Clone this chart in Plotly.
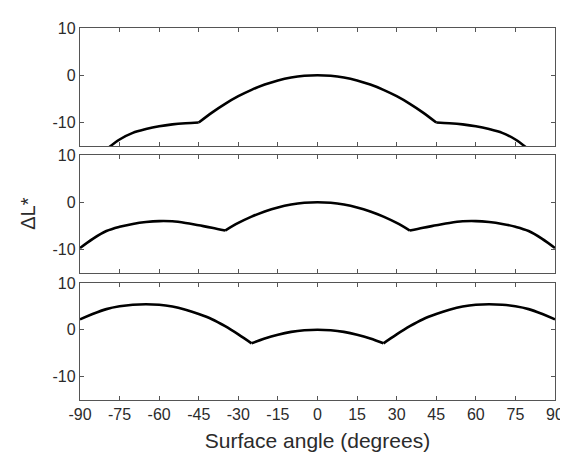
import plotly.graph_objects as go
from plotly.subplots import make_subplots

# Surface angle (degrees), shared by the three panels
angle = [-90, -85, -80, -75, -70, -65, -60, -55, -50, -45, -40, -35, -30,
         -25, -20, -15, -10, -5, 0, 5, 10, 15, 20, 25, 30, 35, 40, 45,
         50, 55, 60, 65, 70, 75, 80, 85, 90]

# Delta L* per panel
dl_top = [None, None, -15.7, -13.6, -12.2, -11.4, -10.8, -10.4, -10.15, -10.0,
          -7.9, -6.05, -4.44, -3.09, -1.98, -1.11, -0.49, -0.12, 0.0,
          -0.12, -0.49, -1.11, -1.98, -3.09, -4.44, -6.05, -7.9,
          -10.0, -10.15, -10.4, -10.8, -11.4, -12.2, -13.6, -15.7, None, None]
dl_mid = [-9.7, -7.7, -6.1, -5.2, -4.6, -4.2, -4.0, -4.05, -4.4, -4.9,
          -5.4, -6.0, -4.4, -3.06, -1.96, -1.1, -0.49, -0.12, 0.0,
          -0.12, -0.49, -1.1, -1.96, -3.06, -4.4, -6.0, -5.4,
          -4.9, -4.4, -4.05, -4.0, -4.2, -4.6, -5.2, -6.1, -7.7, -9.7]
dl_bot = [2.2, 3.4, 4.4, 5.0, 5.35, 5.45, 5.35, 4.95, 4.25, 3.35,
          2.25, 0.75, -1.0, -2.9, -1.86, -1.05, -0.46, -0.12, 0.0,
          -0.12, -0.46, -1.05, -1.86, -2.9, -1.0, 0.75, 2.25,
          3.35, 4.25, 4.95, 5.35, 5.45, 5.35, 5.0, 4.4, 3.4, 2.2]

# angles where the curves have a corner
kinks_top = [-45, 45]
kinks_mid = [-35, 35]
kinks_bot = [-25, 25]

x_ticks = [-90, -75, -60, -45, -30, -15, 0, 15, 30, 45, 60, 75, 90]
y_ticks = [-10, 0, 10]

FONT = "Liberation Sans, Arial, sans-serif"
AXIS_COLOR = "#555555"
TEXT_COLOR = "#2b2b2b"


def pieces(xs, ys, kinks):
    # split a curve at its corners so each smooth arc can be splined alone
    cuts = [0] + [xs.index(k) for k in kinks] + [len(xs) - 1]
    out = []
    for a, b in zip(cuts[:-1], cuts[1:]):
        seg = [(x, y) for x, y in zip(xs[a:b + 1], ys[a:b + 1]) if y is not None]
        out.append(([p[0] for p in seg], [p[1] for p in seg]))
    return out


fig = make_subplots(rows=3, cols=1, shared_xaxes=True)

for row, (dl, kinks) in enumerate(
        [(dl_top, kinks_top), (dl_mid, kinks_mid), (dl_bot, kinks_bot)], start=1):
    for px, py in pieces(angle, dl, kinks):
        fig.add_trace(
            go.Scatter(x=px, y=py, mode="lines",
                       line=dict(color="black", width=2.6, shape="spline",
                                 smoothing=1.0),
                       showlegend=False),
            row=row, col=1,
        )

domains = [[0.6825, 1.0], [0.3413, 0.6587], [0.0, 0.3148]]
for i, dom in enumerate(domains, start=1):
    fig.update_yaxes(
        domain=dom, range=[-15, 10], tickvals=y_ticks,
        ticktext=[str(v) for v in y_ticks],
        ticks="inside", ticklen=4, tickcolor=AXIS_COLOR,
        showline=True, linecolor=AXIS_COLOR, linewidth=1.3, mirror="ticks",
        showgrid=False, zeroline=False,
        tickfont=dict(family=FONT, size=16, color=TEXT_COLOR),
        row=i, col=1,
    )
    fig.update_xaxes(
        range=[-90, 90], tickvals=x_ticks,
        ticktext=[str(v) for v in x_ticks],
        ticks="inside", ticklen=4, tickcolor=AXIS_COLOR,
        showline=True, linecolor=AXIS_COLOR, linewidth=1.3, mirror="ticks",
        showgrid=False, zeroline=False, showticklabels=(i == 3),
        tickfont=dict(family=FONT, size=16, color=TEXT_COLOR),
        row=i, col=1,
    )

fig.update_xaxes(
    title=dict(text="Surface angle (degrees)", standoff=10,
               font=dict(family=FONT, size=21, color=TEXT_COLOR)),
    row=3, col=1,
)

fig.add_annotation(
    text="ΔL*", textangle=-90, showarrow=False,
    xref="paper", yref="paper", x=-0.11, y=0.5,
    xanchor="center", yanchor="middle",
    font=dict(family=FONT, size=20, color=TEXT_COLOR),
)

fig.update_layout(
    width=568, height=452,
    margin=dict(l=72, r=12, t=14, b=60),
    paper_bgcolor="white", plot_bgcolor="white",
)

fig.write_html("out.html")
